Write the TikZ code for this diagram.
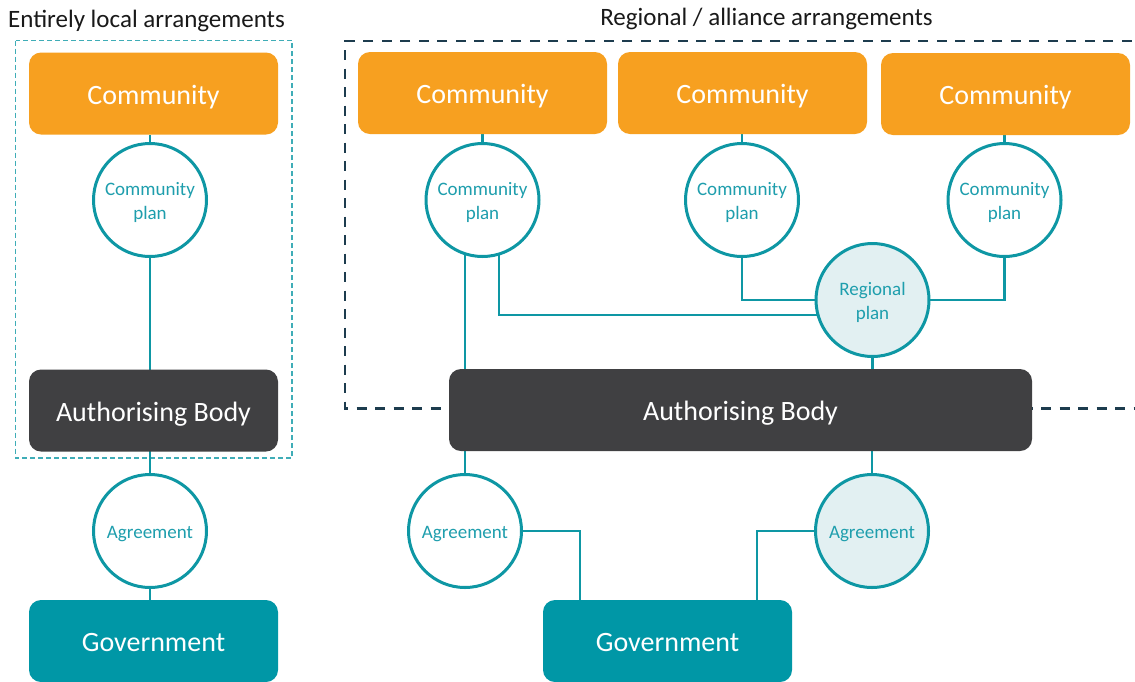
\documentclass[tikz,border=0pt]{standalone}
\usepackage{fontspec}
\setmainfont{Carlito}
\usetikzlibrary{backgrounds,calc}
\definecolor{orangeC}{HTML}{F7A020}
\definecolor{darkB}{HTML}{404042}
\definecolor{tealL}{HTML}{0E97A4}
\definecolor{tealG}{HTML}{0097A6}
\definecolor{tealT}{HTML}{1E9EAD}
\definecolor{paleT}{HTML}{E2F0F2}
\definecolor{navyD}{HTML}{1D3C4E}
\definecolor{dashT}{HTML}{3FADB7}
\newcommand\plantext[1]{\raisebox{-3pt}[\height][\depth]{\begin{tabular}{@{}c@{}}#1\end{tabular}}}
\begin{document}
\begin{tikzpicture}[x=1pt,y=-1pt,
  rbox/.style={rectangle, rounded corners=12pt, minimum width=249pt, minimum height=82pt, inner sep=0pt, text=white, text height=22pt, text depth=1pt, font=\fontsize{28}{34}\selectfont},
  commbox/.style={rbox, fill=orangeC},
  authbox/.style={rbox, fill=darkB},
  govbox/.style={rbox, fill=tealG},
  plan/.style={circle, draw=tealL, line width=3pt, fill=white, minimum size=113pt, inner sep=0pt, align=center, text=tealT, font=\fontsize{19}{24}\selectfont},
  regplan/.style={plan, fill=paleT},
  link/.style={draw=tealL, line width=2.5pt},
  titletext/.style={font=\fontsize{25}{30}\selectfont, text=black!90, inner sep=0pt}]
\useasboundingbox (0,0) rectangle (1135,681);

% titles
\node[titletext, anchor=west] (t1) at (8,21) {Entirely local arrangements};
\node[titletext] (t2) at (766.5,19) {Regional / alliance arrangements};

% left column
\node[commbox] (commL) at (153.5,93.5) {Community};
\node[plan] (planL) at (150,200) {\plantext{Community\\plan}};
\node[authbox] (authL) at (153.5,410.5) {Authorising Body};
\node[plan] (agrL) at (150,531) {\plantext{Agreement}};
\node[govbox] (govL) at (153.5,641) {Government};

% right part
\node[commbox] (comm1) at (482.5,93) {Community};
\node[commbox] (comm2) at (742.5,93) {Community};
\node[commbox] (comm3) at (1005.5,94) {Community};
\node[plan] (plan1) at (482.5,200) {\plantext{Community\\plan}};
\node[plan] (plan2) at (742,200) {\plantext{Community\\plan}};
\node[plan] (plan3) at (1004.5,200) {\plantext{Community\\plan}};
\node[regplan] (reg) at (872.5,300) {\plantext{Regional\\plan}};
\node[authbox, minimum width=583pt] (authR) at (740.5,410) {Authorising Body};
\node[plan] (agr1) at (465,531) {\plantext{Agreement}};
\node[regplan] (agr2) at (872,531) {\plantext{Agreement}};
\node[govbox] (govR) at (667.5,641) {Government};

\begin{scope}[on background layer]
  \fill[white] (0,0) rectangle (1135,681);
  \draw[dashT, line width=1.5pt, dash pattern=on 5pt off 3pt] (15.5,40.5) rectangle (292,458);
  \draw[navyD, line width=2.5pt, dash pattern=on 10pt off 8.5pt] (1150,41) -- (345,41) -- (345,408.5) -- (1150,408.5);
  % left links
  \draw[link] (planL.center |- commL.south) -- (planL.center |- govL.north);
  % right links
  \draw[link] (plan1.center |- comm1.south) -- (plan1.center);
  \draw[link] (plan2.center |- comm2.south) -- (plan2.center);
  \draw[link] (plan3.center |- comm3.south) -- (plan3.center);
  \coordinate (p1a) at ($(plan1.center)+(-17.5,0)$);
  \coordinate (p1b) at ($(plan1.center)+(16.5,0)$);
  \draw[link] (p1a) -- (p1a |- authR.north);
  \draw[link] (p1b) |- ($(reg.center)+(0,15)$);
  \draw[link] (plan2.center) |- (reg.center);
  \draw[link] (plan3.center) |- (reg.center);
  \draw[link] (reg.center) -- (reg.center |- authR.north);
  \draw[link] (agr1.center) -- (agr1.center |- authR.south);
  \draw[link] (agr2.center) -- (agr2.center |- authR.south);
  \draw[link] (agr1.center) -| ($(govR.north west)+(37,0)$);
  \draw[link] (agr2.center) -| ($(govR.north east)+(-35,0)$);
\end{scope}
\end{tikzpicture}
\end{document}
